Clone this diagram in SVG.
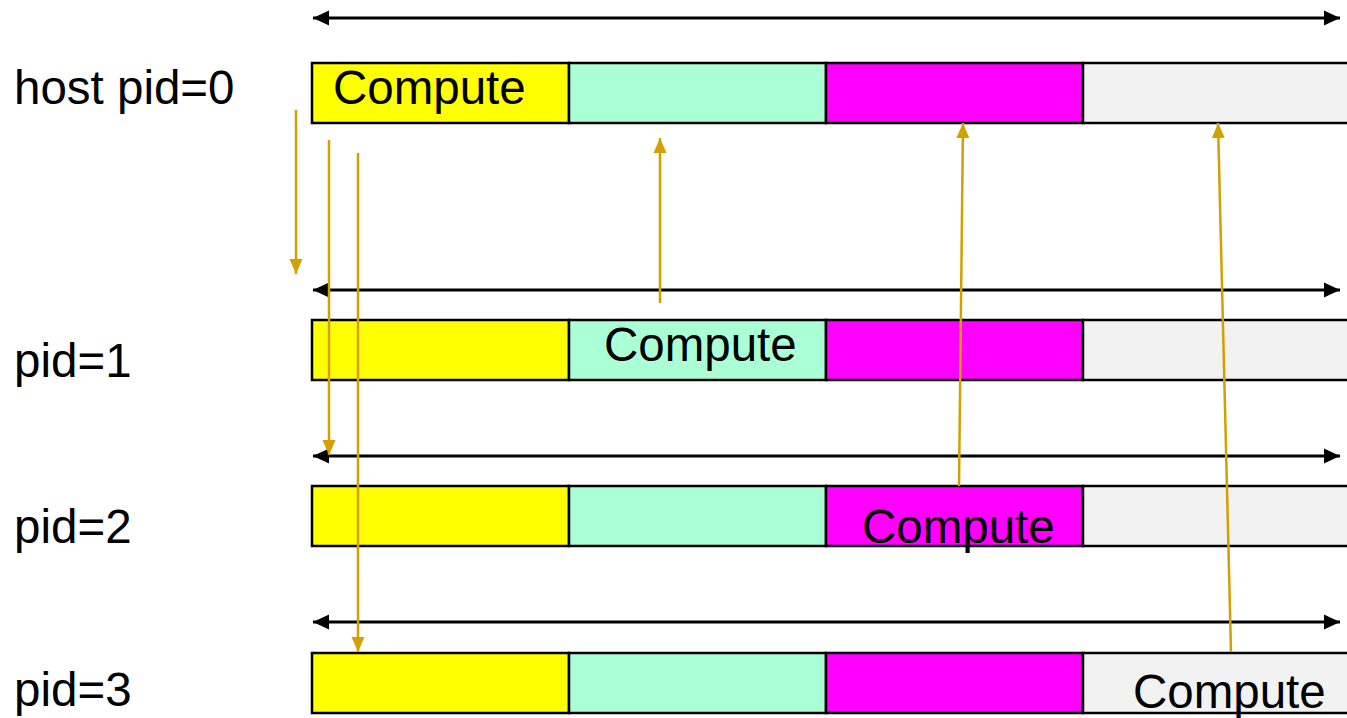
<svg xmlns="http://www.w3.org/2000/svg" width="1347" height="718" viewBox="0 0 1347 718">
<style>
.lbl{font-family:"Liberation Sans",Arial,sans-serif;font-size:47.5px;fill:#000}
.box{stroke:#000;stroke-width:2.5}
.y{fill:#FFFF00}.g{fill:#AAFFD5}.m{fill:#FF00FF}.w{fill:#F2F2F2}
.tl{stroke:#000;stroke-width:3;fill:none;marker-start:url(#bs);marker-end:url(#be)}
.oa{stroke:#D4A000;stroke-width:2.5;fill:none;marker-end:url(#oe)}
</style>
<defs>
<marker id="be" markerWidth="17" markerHeight="17" refX="16" refY="8" orient="auto" markerUnits="userSpaceOnUse"><path d="M0,0.5 L16,8 L0,15.5 Z" fill="#000"/></marker>
<marker id="bs" markerWidth="17" markerHeight="17" refX="0" refY="8" orient="auto" markerUnits="userSpaceOnUse"><path d="M16,0.5 L0,8 L16,15.5 Z" fill="#000"/></marker>
<marker id="oe" markerWidth="16" markerHeight="16" refX="15" refY="8" orient="auto" markerUnits="userSpaceOnUse"><path d="M0,1.5 L15,8 L0,14.5 Z" fill="#D4A000"/></marker>
</defs>
<rect width="1347" height="718" fill="#fff"/>
<g id="row0">
<rect class="box y" x="312" y="63" width="257" height="60"/>
<rect class="box g" x="569" y="63" width="257" height="60"/>
<rect class="box m" x="826" y="63" width="257" height="60"/>
<rect class="box w" x="1083" y="63" width="270" height="60"/>
<text class="lbl" x="14" y="104">host pid=0</text>
<text class="lbl" x="333" y="104">Compute</text>
</g>
<g id="row1">
<rect class="box y" x="312" y="320" width="257" height="60"/>
<rect class="box g" x="569" y="320" width="257" height="60"/>
<rect class="box m" x="826" y="320" width="257" height="60"/>
<rect class="box w" x="1083" y="320" width="270" height="60"/>
<text class="lbl" x="14" y="377">pid=1</text>
<text class="lbl" x="604" y="361">Compute</text>
</g>
<g id="row2">
<rect class="box y" x="312" y="486" width="257" height="60"/>
<rect class="box g" x="569" y="486" width="257" height="60"/>
<rect class="box m" x="826" y="486" width="257" height="60"/>
<rect class="box w" x="1083" y="486" width="270" height="60"/>
<text class="lbl" x="14" y="543">pid=2</text>
<text class="lbl" x="862" y="543">Compute</text>
</g>
<g id="row3">
<rect class="box y" x="312" y="653" width="257" height="60"/>
<rect class="box g" x="569" y="653" width="257" height="60"/>
<rect class="box m" x="826" y="653" width="257" height="60"/>
<rect class="box w" x="1083" y="653" width="270" height="60"/>
<text class="lbl" x="14" y="706">pid=3</text>
<text class="lbl" x="1133" y="708">Compute</text>
</g>
<g id="connectors">
<line class="tl" x1="313" y1="18" x2="1340" y2="18"/>
<line class="tl" x1="313" y1="290" x2="1340" y2="290"/>
<line class="tl" x1="313" y1="456" x2="1340" y2="456"/>
<line class="tl" x1="313" y1="622" x2="1340" y2="622"/>
<line class="oa" x1="296" y1="110" x2="296" y2="274"/>
<line class="oa" x1="329" y1="140" x2="329" y2="455"/>
<line class="oa" x1="358" y1="153" x2="358" y2="652"/>
<line class="oa" x1="660" y1="303" x2="660" y2="138"/>
<line class="oa" x1="959" y1="486" x2="963" y2="123"/>
<line class="oa" x1="1231" y1="652" x2="1218" y2="123"/>
</g>
</svg>
